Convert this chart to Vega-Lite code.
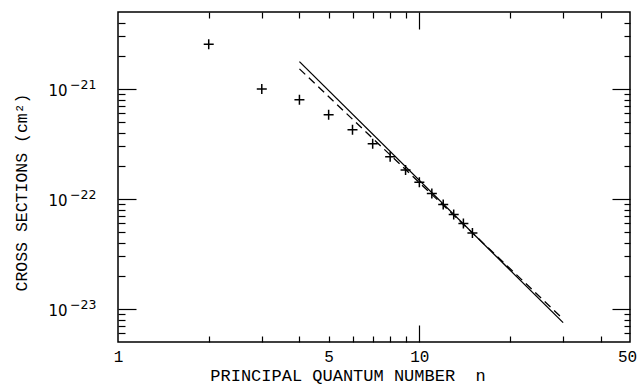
{
  "$schema": "https://vega.github.io/schema/vega-lite/v6.json",
  "width": 512,
  "height": 330,
  "autosize": {"type": "none"},
  "padding": {"left": 118, "top": 12, "right": 8, "bottom": 42},
  "background": "white",
  "config": {
    "view": {"stroke": "black", "strokeWidth": 1.5},
    "axis": {"domain": false, "grid": false, "tickColor": "black", "tickWidth": 1.2, "labelColor": "black", "titleColor": "black"}
  },
  "datasets": {
    "points": [
      {"n": 2, "sigma": 2.54e-21},
      {"n": 3, "sigma": 1.0e-21},
      {"n": 4, "sigma": 7.98e-22},
      {"n": 5, "sigma": 5.83e-22},
      {"n": 6, "sigma": 4.25e-22},
      {"n": 7, "sigma": 3.17e-22},
      {"n": 8, "sigma": 2.42e-22},
      {"n": 9, "sigma": 1.83e-22},
      {"n": 10, "sigma": 1.42e-22},
      {"n": 11, "sigma": 1.12e-22},
      {"n": 12, "sigma": 8.89e-23},
      {"n": 13, "sigma": 7.21e-23},
      {"n": 14, "sigma": 5.96e-23},
      {"n": 15, "sigma": 4.90e-23}
    ],
    "lines": [
      {"series": "solid", "n": 4, "sigma": 1.77e-21},
      {"series": "solid", "n": 30, "sigma": 7.5e-24},
      {"series": "dashed", "n": 4, "sigma": 1.52e-21},
      {"series": "dashed", "n": 30, "sigma": 8.1e-24}
    ]
  },
  "resolve": {"axis": {"x": "independent", "y": "independent"}},
  "layer": [
    {
      "data": {"name": "points"},
      "mark": {"type": "point", "shape": "M-1,0L1,0M0,-1L0,1", "filled": false, "stroke": "black", "strokeWidth": 1.5, "size": 100, "opacity": 1},
      "encoding": {
        "x": {"field": "n", "type": "quantitative", "scale": {"type": "log", "domain": [1, 50], "nice": false, "zero": false},
          "axis": {"orient": "bottom", "values": [1, 5, 10, 50], "ticks": false, "format": "d", "labelPadding": 19, "labelBaseline": "alphabetic", "labelFont": "Liberation Mono", "labelFontSize": 16, "labelFlush": false,
            "labelOffset": {"condition": {"test": "datum.value == 50", "value": -3}, "value": 0},
            "title": "PRINCIPAL QUANTUM NUMBER \u00a0n", "titleFont": "Liberation Mono", "titleFontSize": 17, "titleFontWeight": "normal", "titleX": 229.5, "titleY": 38, "titleAlign": "center", "titleBaseline": "alphabetic"}},
        "y": {"field": "sigma", "type": "quantitative", "scale": {"type": "log", "domain": [5e-24, 5e-21], "nice": false, "zero": false},
          "axis": {"orient": "left", "values": [1e-23, 1e-22, 1e-21], "ticks": false, "labelExpr": "'10'", "labelPadding": 51, "labelOffset": 1.2, "labelFont": "DejaVu Sans", "labelFontSize": 15, "labelBaseline": "middle",
            "title": "CROSS SECTIONS (cm\u00b2)", "titleFont": "Liberation Mono", "titleFontSize": 16.5, "titleFontWeight": "normal", "titleX": -91.5, "titleY": 180, "titleAngle": -90, "titleAlign": "center", "titleBaseline": "alphabetic"}}
      }
    },
    {
      "data": {"name": "lines"},
      "transform": [{"filter": "datum.series == 'solid'"}],
      "mark": {"type": "line", "color": "black", "strokeWidth": 1.3},
      "encoding": {
        "x": {"field": "n", "type": "quantitative", "scale": {"type": "log", "domain": [1, 50], "nice": false, "zero": false},
          "axis": {"orient": "bottom", "values": [2, 3, 4, 5, 6, 7, 8, 9, 20, 30, 40], "tickSize": -6, "labels": false, "title": null}},
        "y": {"field": "sigma", "type": "quantitative", "scale": {"type": "log", "domain": [5e-24, 5e-21], "nice": false, "zero": false},
          "axis": {"orient": "left", "values": [1e-23, 1e-22, 1e-21], "ticks": false, "labelExpr": "datum.value < 5e-23 ? '\u221223' : datum.value < 5e-22 ? '\u221222' : '\u221221'", "labelPadding": 22, "labelOffset": -4.8, "labelFont": "DejaVu Sans", "labelFontSize": 12.5, "labelBaseline": "middle", "title": null}}
      }
    },
    {
      "data": {"name": "lines"},
      "transform": [{"filter": "datum.series == 'dashed'"}],
      "mark": {"type": "line", "color": "black", "strokeWidth": 1.3, "strokeDash": [8, 5]},
      "encoding": {
        "x": {"field": "n", "type": "quantitative", "scale": {"type": "log", "domain": [1, 50], "nice": false, "zero": false},
          "axis": {"orient": "bottom", "values": [10], "tickSize": -17, "labels": false, "title": null}},
        "y": {"field": "sigma", "type": "quantitative", "scale": {"type": "log", "domain": [5e-24, 5e-21], "nice": false, "zero": false},
          "axis": {"orient": "left", "values": [1e-23, 1e-22, 1e-21], "tickSize": -18, "labels": false, "title": null}}
      }
    },
    {
      "data": {"name": "points"},
      "mark": {"type": "point", "opacity": 0},
      "encoding": {
        "x": {"field": "n", "type": "quantitative", "scale": {"type": "log", "domain": [1, 50], "nice": false, "zero": false},
          "axis": {"orient": "top", "values": [2, 3, 4, 5, 6, 7, 8, 9, 20, 30, 40], "tickSize": -6, "labels": false, "title": null}},
        "y": {"field": "sigma", "type": "quantitative", "scale": {"type": "log", "domain": [5e-24, 5e-21], "nice": false, "zero": false},
          "axis": {"orient": "left", "values": [6e-24, 7e-24, 8e-24, 9e-24, 2e-23, 3e-23, 4e-23, 5e-23, 6e-23, 7e-23, 8e-23, 9e-23, 2e-22, 3e-22, 4e-22, 5e-22, 6e-22, 7e-22, 8e-22, 9e-22, 2e-21, 3e-21, 4e-21], "tickSize": -7, "labels": false, "title": null}}
      }
    },
    {
      "data": {"name": "points"},
      "mark": {"type": "point", "opacity": 0},
      "encoding": {
        "x": {"field": "n", "type": "quantitative", "scale": {"type": "log", "domain": [1, 50], "nice": false, "zero": false},
          "axis": {"orient": "top", "values": [10], "tickSize": -17, "labels": false, "title": null}},
        "y": {"field": "sigma", "type": "quantitative", "scale": {"type": "log", "domain": [5e-24, 5e-21], "nice": false, "zero": false},
          "axis": {"orient": "right", "values": [1e-23, 1e-22, 1e-21], "tickSize": -18, "labels": false, "title": null}}
      }
    },
    {
      "data": {"name": "points"},
      "mark": {"type": "point", "opacity": 0},
      "encoding": {
        "x": {"field": "n", "type": "quantitative", "scale": {"type": "log", "domain": [1, 50], "nice": false, "zero": false}, "axis": null},
        "y": {"field": "sigma", "type": "quantitative", "scale": {"type": "log", "domain": [5e-24, 5e-21], "nice": false, "zero": false},
          "axis": {"orient": "right", "values": [6e-24, 7e-24, 8e-24, 9e-24, 2e-23, 3e-23, 4e-23, 5e-23, 6e-23, 7e-23, 8e-23, 9e-23, 2e-22, 3e-22, 4e-22, 5e-22, 6e-22, 7e-22, 8e-22, 9e-22, 2e-21, 3e-21, 4e-21], "tickSize": -6, "labels": false, "title": null}}
      }
    }
  ]
}
